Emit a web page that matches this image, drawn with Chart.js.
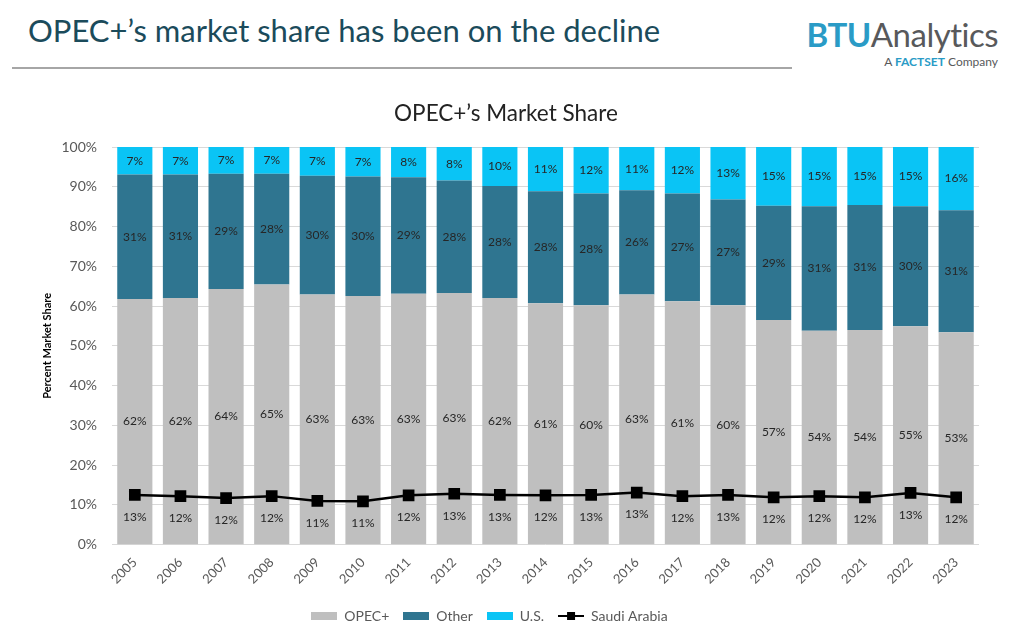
<!DOCTYPE html>
<html>
<head>
<meta charset="utf-8">
<script src="https://cdn.jsdelivr.net/npm/chart.js@4"></script>
<style>
  html, body { margin: 0; padding: 0; background: #fff; }
  body { width: 1024px; height: 633px; position: relative; overflow: hidden; font-family: Lato, sans-serif; }
  #headline { position: absolute; left: 28px; top: 11px; font-size: 31px; color: #1b4b5b; white-space: nowrap; }
  #rule { position: absolute; left: 12px; top: 67px; width: 780px; height: 2px; background: #a6a6a6; }
  #logo { position: absolute; right: 26px; top: 14px; font-size: 33px; white-space: nowrap; letter-spacing: -0.5px; }
  #logo b { color: #2a9bc6; font-weight: 700; }
  #logo span { color: #58595b; }
  #sub { position: absolute; right: 26px; top: 54px; font-family: "Liberation Sans Narrow", Lato, sans-serif; font-size: 12px; color: #58595b; white-space: nowrap; }
  #sub b { color: #2a9bc6; }
  #charttitle { position: absolute; left: 306px; width: 400px; top: 99px; text-align: center; font-size: 22.5px; color: #222; }
  #wrap { position: absolute; left: 0; top: 90px; width: 1024px; height: 543px; }
</style>
</head>
<body>
<div id="headline">OPEC+’s market share has been on the decline</div>
<div id="rule"></div>
<div id="logo"><b>BTU</b><span>Analytics</span></div>
<div id="sub">A <b>FACTSET</b> Company</div>
<div id="wrap"><canvas id="sharechart"></canvas></div>
<div id="charttitle">OPEC+’s Market Share</div>
<script>
var years = ['2005', '2006', '2007', '2008', '2009', '2010', '2011', '2012', '2013', '2014',
             '2015', '2016', '2017', '2018', '2019', '2020', '2021', '2022', '2023'];
var opecPlus = [61.8, 62.0, 64.3, 65.4, 62.9, 62.5, 63.1, 63.3, 62.0, 60.7, 60.2, 62.9, 61.2, 60.2, 56.5, 53.8, 54.0, 54.9, 53.4];
var other = [31.3, 31.1, 29.0, 27.9, 29.9, 30.1, 29.3, 28.3, 28.2, 28.2, 28.1, 26.2, 27.1, 26.6, 28.7, 31.3, 31.4, 30.2, 30.7];
var us = [6.9, 6.9, 6.7, 6.7, 7.2, 7.4, 7.6, 8.4, 9.8, 11.1, 11.7, 10.9, 11.7, 13.2, 14.8, 14.9, 14.6, 14.9, 15.9];
var saudi = [12.5, 12.2, 11.7, 12.2, 11.0, 10.9, 12.4, 12.8, 12.5, 12.4, 12.5, 13.1, 12.2, 12.5, 11.9, 12.2, 11.9, 13.0, 11.9];
var yTicks = [0, 10, 20, 30, 40, 50, 60, 70, 80, 90, 100];

// little legend swatches
function swatch(color, withMarker) {
    var c = document.createElement('canvas');
    c.width = 26;
    c.height = 10;
    var g = c.getContext('2d');
    if (withMarker) {
        g.fillStyle = color;
        g.fillRect(0, 4, 26, 2);
        g.fillRect(9, 1, 8, 8);
    } else {
        g.fillStyle = color;
        g.fillRect(0, 1, 26, 8);
    }
    return c;
}
var legendSwatches = [swatch('#bfbfbf'), swatch('#2f7590'), swatch('#0ac4f5'), swatch('#000', true)];

var valueLabels = {
    id: 'valueLabels',
    afterDatasetsDraw: function (chart) {
        var ctx = chart.ctx;
        ctx.save();
        ctx.font = '12px Lato';
        ctx.fillStyle = '#262626';
        ctx.textAlign = 'center';
        ctx.textBaseline = 'middle';
        chart.data.datasets.forEach(function (ds, i) {
            var meta = chart.getDatasetMeta(i);
            meta.data.forEach(function (el, j) {
                var txt = Math.round(ds.data[j]) + '%';
                if (ds.type === 'line') {
                    ctx.fillText(txt, el.x, el.y + 22);
                } else {
                    ctx.fillText(txt, el.x, (el.y + el.base) / 2);
                }
            });
        });
        ctx.restore();
    }
};

var sharectx = document.getElementById('sharechart').getContext('2d');
var sharechart = new Chart(sharectx, {
    data: {
        labels: years,
        datasets: [{
            type: 'bar',
            label: 'OPEC+',
            data: opecPlus,
            backgroundColor: '#bfbfbf',
            order: 1
        }, {
            type: 'bar',
            label: 'Other',
            data: other,
            backgroundColor: '#2f7590',
            order: 1
        }, {
            type: 'bar',
            label: 'U.S.',
            data: us,
            backgroundColor: '#0ac4f5',
            order: 1
        }, {
            type: 'line',
            label: 'Saudi Arabia',
            data: saudi,
            stack: 'saudi',
            borderColor: '#000',
            backgroundColor: '#000',
            borderWidth: 2.5,
            pointStyle: 'rect',
            pointRadius: 6.5,
            order: 0
        }]
    },
    options: {
        responsive: true,
        maintainAspectRatio: false,
        animation: false,
        layout: { padding: { left: 0, right: 45, top: 57, bottom: 0 } },
        datasets: { bar: { categoryPercentage: 1, barPercentage: 0.77 } },
        scales: {
            x: {
                stacked: true,
                afterFit: function (scale) { scale.height += 6; },
                grid: { display: false },
                border: { display: false },
                ticks: { color: '#595959', font: { family: 'Lato', size: 13 }, minRotation: 45, maxRotation: 45, padding: 2 }
            },
            y: {
                stacked: true,
                min: 0,
                max: 100,
                afterFit: function (scale) { scale.width = 112; },
                afterBuildTicks: function (scale) { scale.ticks = yTicks.map(function (v) { return { value: v }; }); },
                grid: { color: '#d9d9d9', drawTicks: false },
                border: { display: false },
                ticks: {
                    color: '#595959',
                    font: { family: 'Lato', size: 14 },
                    padding: 15,
                    callback: function (v) { return v + '%'; }
                },
                title: {
                    display: true,
                    text: 'Percent Market Share',
                    color: '#000',
                    font: { family: 'Lato', size: 11, weight: 'bold' },
                    padding: { top: 41, bottom: 0 }
                }
            }
        },
        plugins: {
            legend: {
                position: 'bottom',
                labels: {
                    usePointStyle: true,
                    pointStyleWidth: 26,
                    color: '#595959',
                    font: { family: 'Lato', size: 14 },
                    padding: 14,
                    generateLabels: function (chart) {
                        var items = Chart.defaults.plugins.legend.labels.generateLabels(chart);
                        items.sort(function (a, b) { return a.datasetIndex - b.datasetIndex; });
                        items.forEach(function (it) { it.pointStyle = legendSwatches[it.datasetIndex]; });
                        return items;
                    }
                }
            },
            tooltip: { enabled: false }
        }
    },
    plugins: [valueLabels]
});
</script>
</body>
</html>
